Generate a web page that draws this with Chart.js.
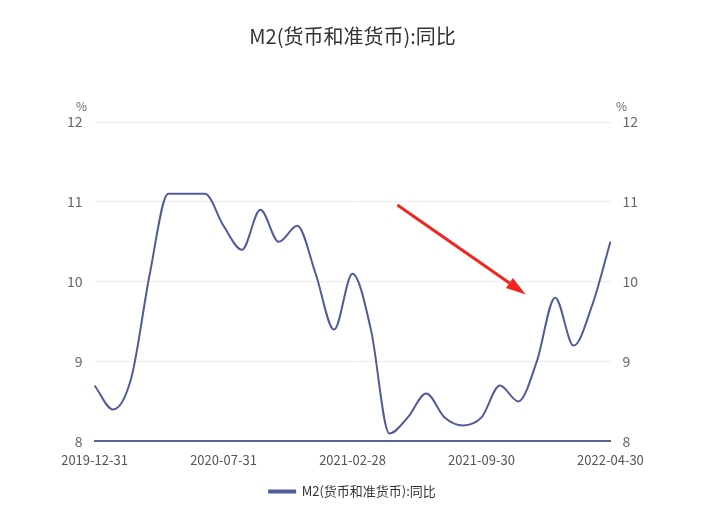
<!DOCTYPE html>
<html><head><meta charset="utf-8">
<script src="https://cdn.jsdelivr.net/npm/chart.js@4"></script>
<style>body{margin:0;background:#fff}#w{width:713px;height:519px}</style>
</head><body><div id="w"><canvas id="c"></canvas></div>
<script>
const categories=["2019-12-31","2020-01-31","2020-02-29","2020-03-31","2020-04-30","2020-05-31","2020-06-30","2020-07-31","2020-08-31","2020-09-30","2020-10-31","2020-11-30","2020-12-31","2021-01-31","2021-02-28","2021-03-31","2021-04-30","2021-05-31","2021-06-30","2021-07-31","2021-08-31","2021-09-30","2021-10-31","2021-11-30","2021-12-31","2022-01-31","2022-02-28","2022-03-31","2022-04-30"];
const m2=[8.7,8.4,8.8,10.1,11.1,11.1,11.1,10.7,10.4,10.9,10.5,10.7,10.1,9.4,10.1,9.4,8.1,8.3,8.6,8.3,8.2,8.3,8.7,8.5,9.0,9.8,9.2,9.7,10.5];
const seriesName="M2(货币和准货币):同比";
const F="'Noto Sans CJK SC','Noto Sans',sans-serif";
const arrow={id:'arrow',afterDatasetsDraw(ch){const c=ch.ctx,a=ch.chartArea;
 const x1=a.left+(a.right-a.left)*0.587,y1=a.top+(a.bottom-a.top)*0.26,x2=a.left+(a.right-a.left)*0.836,y2=a.top+(a.bottom-a.top)*0.54;
 c.save();c.strokeStyle='#f0261f';c.fillStyle='#f0261f';c.lineWidth=3;c.beginPath();c.moveTo(x1,y1);
 const ang=Math.atan2(y2-y1,x2-x1);const hx=x2-20*Math.cos(ang),hy=y2-20*Math.sin(ang);c.lineTo(hx,hy);c.stroke();
 c.beginPath();c.moveTo(x2,y2);c.lineTo(hx+6*Math.sin(ang),hy-6*Math.cos(ang));c.lineTo(hx-6*Math.sin(ang),hy+6*Math.cos(ang));c.closePath();c.fill();c.restore();}};
const pct={id:'pct',afterDraw(ch){const c=ch.ctx,a=ch.chartArea;c.save();c.font="12px "+F;c.fillStyle='#666';c.textAlign='center';
 c.fillText('%',a.left-13,a.top-16);c.fillText('%',a.right+11,a.top-16);c.restore();}};
new Chart(document.getElementById('c'),{type:'line',
 data:{labels:categories,datasets:[{label:seriesName,data:m2,borderColor:'#4f5b9a',backgroundColor:'#4f5b9a',borderWidth:2,pointRadius:0,cubicInterpolationMode:'monotone',yAxisID:'y'}]},
 options:{responsive:true,maintainAspectRatio:false,animation:false,
  layout:{padding:{left:55,right:63,top:10,bottom:11}},
  plugins:{title:{display:true,text:seriesName,color:'#333',font:{family:F,size:20,weight:'normal'},padding:{top:14,bottom:74}},
   legend:{position:'bottom',labels:{color:'#333',font:{family:F,size:13},boxWidth:26,boxHeight:2,padding:14}},tooltip:{enabled:false}},
  scales:{
   x:{grid:{display:false},border:{color:'#5b6399',width:2},ticks:{color:'#555',font:{family:F,size:13},maxRotation:0,autoSkip:false,callback:(v,i)=>i%7===0?categories[i]:''}},
   y:{position:'left',min:8,max:12,ticks:{stepSize:1,color:'#666',font:{family:F,size:14},padding:12},grid:{color:'#ececec',drawTicks:false},border:{display:false}},
   y2:{position:'right',min:8,max:12,ticks:{stepSize:1,color:'#666',font:{family:F,size:14},padding:12},grid:{display:false,drawTicks:false},border:{display:false}}
  }},plugins:[arrow,pct]});
</script></body></html>
